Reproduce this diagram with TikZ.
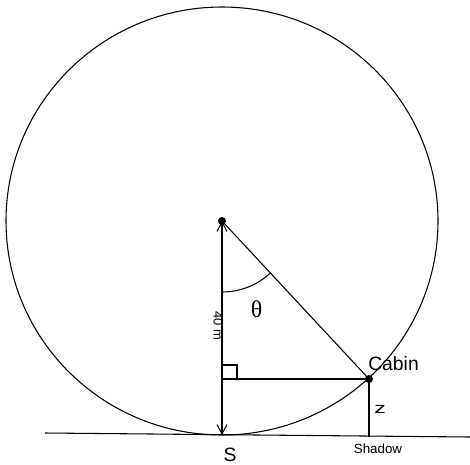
\documentclass[tikz,border=0pt]{standalone}
\usepackage{fontspec}
\setmainfont{Liberation Sans}
\newfontfamily\serifth{Liberation Serif}
\usetikzlibrary{arrows.meta}
\begin{document}
\begin{tikzpicture}[x=0.75pt,y=-0.75pt,
  thin line/.style={line width=0.8pt,black},
  dot/.style={circle,fill=black,inner sep=0pt,minimum size=6pt},
  lab/.style={inner sep=0pt,font=\fontsize{14.5pt}{16pt}\selectfont},
  smalllab/.style={inner sep=0pt,font=\fontsize{9.75pt}{11pt}\selectfont}]
\useasboundingbox (0,0) rectangle (470,464);
\coordinate (O) at (222,221);
\coordinate (C) at (369,379);
\coordinate (S) at (222,435);
\coordinate (F) at (222,379);
\coordinate (G) at (369,437);
\coordinate (L) at (45,433);
\coordinate (R) at (470,437);
% circle
\draw[thin line] (O) ellipse [x radius=162pt, y radius=160.5pt];
% ground
\draw[thin line] (L) -- (R);
% radius arrows
\draw[thin line,{Straight Barb[length=7pt,width=7.5pt]}-{Straight Barb[length=7pt,width=7.5pt]}] (O) -- (S);
% to cabin
\draw[thin line] (O) -- (C);
\draw[thin line] (F) -- (C);
\draw[thin line] (C) -- (G);
% right angle
\draw[thin line] (222,365) -- (237,365) -- (237,379);
% theta arc
\draw[thin line] ([shift={(-90:53.25pt)}]O) arc[start angle=-90, end angle=-47, radius=53.25pt];
% dots
\node[dot] (Odot) at (O) {};
\node[dot] (Cdot) at (C) {};
% labels
\node[lab,anchor=base west] (cabin) at (368,370) {Cabin};
\node[lab,anchor=base] (slab) at (230,461) {S};
\node[inner sep=0pt,anchor=base,font=\fontsize{10pt}{12pt}\selectfont] (shadow) at (378,453) {Shadow};
\node[inner sep=0pt,xscale=1.5,font=\fontsize{11.5pt}{13pt}\selectfont] (zlab) at (380,409) {z};
\node[smalllab,rotate=-90] (forty) at (218,326) {40 m};
\node[inner sep=0pt,font=\serifth\fontsize{18pt}{20pt}\selectfont] (theta) at (256.5,309) {θ};
\end{tikzpicture}
\end{document}
